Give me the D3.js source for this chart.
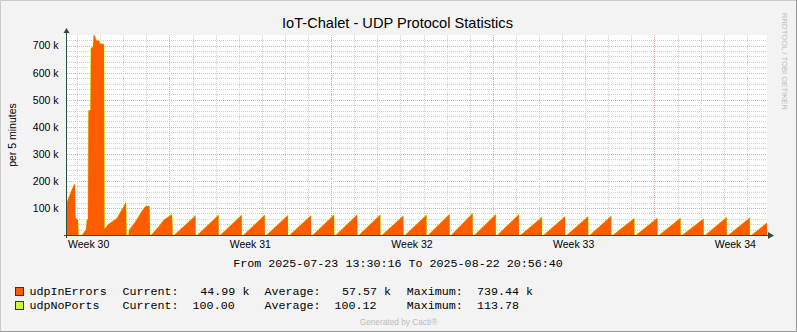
<!DOCTYPE html>
<html><head><meta charset="utf-8">
<script src="https://cdn.jsdelivr.net/npm/d3@7"></script>
<style>html,body{margin:0;padding:0;background:#F3F3F3;} svg{display:block;}</style>
</head><body><svg id="c" width="797" height="332"></svg>
<script>
// ---------------- data ----------------
const rangeStart = "2025-07-23 13:30:16";
const rangeEnd = "2025-08-22 20:56:40";
const times = [
 "2025-07-23 13:30:16","2025-07-23 16:30","2025-07-23 21:00","2025-07-23 21:45","2025-07-23 22:15",
 "2025-07-24 00:55","2025-07-24 01:25","2025-07-24 05:05","2025-07-24 06:10","2025-07-24 09:15",
 "2025-07-24 10:15","2025-07-24 11:20","2025-07-24 11:50","2025-07-24 13:55","2025-07-24 14:25",
 "2025-07-24 16:30","2025-07-24 17:20","2025-07-24 18:35","2025-07-24 19:40","2025-07-24 22:45",
 "2025-07-24 23:50","2025-07-25 03:55","2025-07-25 04:25","2025-07-25 08:50","2025-07-25 12:15",
 "2025-07-25 17:25","2025-07-25 20:55","2025-07-26 00:25","2025-07-26 02:05","2025-07-26 02:50",
 "2025-07-26 03:20","2025-07-26 05:25","2025-07-26 05:55","2025-07-26 12:30","2025-07-26 19:25",
 "2025-07-26 22:50","2025-07-27 01:40","2025-07-27 03:15","2025-07-27 03:45","2025-07-27 05:50",
 "2025-07-27 12:50","2025-07-27 18:00","2025-07-27 21:25","2025-07-28 02:35","2025-07-28 03:20",
 "2025-07-28 05:00",
 "2025-07-29 03:00","2025-07-29 03:10","2025-07-29 05:00",
 "2025-07-30 03:00","2025-07-30 03:10","2025-07-30 05:00",
 "2025-07-31 03:00","2025-07-31 03:10","2025-07-31 05:00",
 "2025-08-01 03:00","2025-08-01 03:10","2025-08-01 05:00",
 "2025-08-02 03:00","2025-08-02 03:10","2025-08-02 05:00",
 "2025-08-03 03:00","2025-08-03 03:10","2025-08-03 05:00",
 "2025-08-04 03:00","2025-08-04 03:10","2025-08-04 05:00",
 "2025-08-05 03:00","2025-08-05 03:10","2025-08-05 05:00",
 "2025-08-06 03:00","2025-08-06 03:10","2025-08-06 05:00",
 "2025-08-07 03:00","2025-08-07 03:10","2025-08-07 05:00",
 "2025-08-08 03:00","2025-08-08 03:10","2025-08-08 05:00",
 "2025-08-09 03:00","2025-08-09 03:10","2025-08-09 05:00",
 "2025-08-10 03:00","2025-08-10 03:10","2025-08-10 05:00",
 "2025-08-11 03:00","2025-08-11 03:10","2025-08-11 05:00",
 "2025-08-12 03:00","2025-08-12 03:10","2025-08-12 05:00",
 "2025-08-13 03:00","2025-08-13 03:10","2025-08-13 05:00",
 "2025-08-14 03:00","2025-08-14 03:10","2025-08-14 05:00",
 "2025-08-15 03:00","2025-08-15 03:10","2025-08-15 05:00",
 "2025-08-16 03:00","2025-08-16 03:10","2025-08-16 05:00",
 "2025-08-17 03:00","2025-08-17 03:10","2025-08-17 05:00",
 "2025-08-18 03:00","2025-08-18 03:10","2025-08-18 05:00",
 "2025-08-19 03:00","2025-08-19 03:10","2025-08-19 05:00",
 "2025-08-20 03:00","2025-08-20 03:10","2025-08-20 05:00",
 "2025-08-21 03:00","2025-08-21 03:10","2025-08-21 05:00",
 "2025-08-22 03:00","2025-08-22 03:10","2025-08-22 05:00",
 "2025-08-22 20:56:40"
];
const udpInErrors = [
 122000,150000,188000,188000,63000,
 55000,0,0,5000,20000,
 57000,57000,460000,460000,690000,
 695000,739440,735000,720000,718000,
 708000,705000,22000,41000,49000,
 62000,84000,105000,117000,120000,
 0,0,18000,49000,89000,
 105000,108000,105000,0,3000,
 31000,55000,64000,76000,0,
 0,
 72000,0,0,
 74000,0,0,
 74000,0,0,
 74000,0,0,
 73000,0,0,
 72000,0,0,
 75000,0,0,
 75000,0,0,
 75000,0,0,
 71000,0,0,
 74000,0,0,
 77000,0,0,
 80000,0,0,
 76000,0,0,
 76000,0,0,
 66000,0,0,
 68000,0,0,
 68000,0,0,
 70000,0,0,
 62000,0,0,
 63000,0,0,
 63000,0,0,
 60000,0,0,
 66000,0,0,
 64000,0,0,
 44990
];
const udpNoPorts = [
 100,100,101,101,100, 100,100,100,100,100, 100,100,105,108,110, 112,113.78,111,104,101,
 100,100,100,100,100, 100,100,100,100,100, 100,100,100,100,100, 100,100,100,100,100,
 100,100,100,100,100, 100,
 100,100,100, 100,100,100, 100,100,100, 100,100,100, 100,100,100, 100,100,100,
 100,100,100, 100,100,100, 100,100,100, 100,100,100, 100,100,100, 100,100,100,
 100,100,100, 100,100,100, 100,100,100, 100,100,100, 100,100,100, 100,100,100,
 100,100,100, 100,100,100, 100,100,100, 100,100,100, 100,100,100, 100,100,100,
 100,100,100,
 100
];
const yMax = 739440;
const yTickValues = [100000,200000,300000,400000,500000,600000,700000];
const yTickLabels = ["100 k","200 k","300 k","400 k","500 k","600 k","700 k"];
const weekStarts = ["2025-07-21","2025-07-28","2025-08-04","2025-08-11","2025-08-18"];
const weekLabels = ["Week 30","Week 31","Week 32","Week 33","Week 34"];
const seriesNames = ["udpInErrors","udpNoPorts"];
const seriesColors = ["#FF5C00","#C6FF3A"];
const statCurrent = ["44.99 k","100.00"];
const statAverage = ["57.57 k","100.12"];
const statMaximum = ["739.44 k","113.78"];
const titleText = "IoT-Chalet - UDP Protocol Statistics";
const yAxisTitle = "per 5 minutes";

// ---------------- drawing ----------------
const parseT = s => d3.utcParse("%Y-%m-%d %H:%M:%S")(s) || d3.utcParse("%Y-%m-%d %H:%M")(s) || d3.utcParse("%Y-%m-%d")(s);
const t0 = parseT(rangeStart), t1 = parseT(rangeEnd);
const data = times.map((t,i)=>({t:parseT(t), a:udpInErrors[i], b:udpNoPorts[i]}));

const svg = d3.select("#c");
const W = 797, H = 332;
const x = d3.scaleUtc().domain([t0,t1]).range([67,767]);
const y = d3.scaleLinear().domain([0,yMax]).range([235,35]);

svg.append("rect").attr("width",W).attr("height",H).attr("fill","#F3F3F3");
// border
svg.append("path").attr("d",`M0.5,${H}V0.5H${W}`).attr("fill","none").attr("stroke","#CBCBCB");
svg.append("path").attr("d",`M0,${H-0.5}H${W-0.5}V0`).attr("fill","none").attr("stroke","#999999");

// canvas
svg.append("rect").attr("x",67).attr("y",35).attr("width",700).attr("height",200).attr("fill","#FFFFFF");
svg.append("clipPath").attr("id","above0").append("rect").attr("x",67).attr("y",30).attr("width",700).attr("height",203.6);

const grid = svg.append("g").attr("shape-rendering","crispEdges");
const minorCol = "#CFCFCF", majorCol = "#F0A4A4";
// horizontal minor/major
d3.range(20000, yMax, 20000).forEach(v=>{
  const yy = Math.round(y(v))+0.5;
  const major = v % 100000 === 0;
  grid.append("line").attr("x1",67).attr("x2",767).attr("y1",yy).attr("y2",yy)
    .attr("stroke", major?majorCol:minorCol).attr("stroke-dasharray","1,1");
});
// vertical minor (daily)
d3.utcDay.range(t0,t1).forEach(d=>{
  const isMon = d.getUTCDay()===1;
  if (isMon) return;
  const xx = Math.round(x(d))+0.5;
  grid.append("line").attr("x1",xx).attr("x2",xx).attr("y1",35).attr("y2",235)
    .attr("stroke",minorCol).attr("stroke-dasharray","1,1");
});
// vertical major (weekly)
weekStarts.map(parseT).filter(d=>d>t0).forEach(d=>{
  const xx = Math.round(x(d))+0.5;
  grid.append("line").attr("x1",xx).attr("x2",xx).attr("y1",35).attr("y2",235)
    .attr("stroke",majorCol).attr("stroke-dasharray","1,1");
});

// areas (udpNoPorts stacked on udpInErrors)
const stackTop = d3.area().x(d=>x(d.t)).y0(y(0)).y1(d=>y(d.a+d.b));
const areaA = d3.area().x(d=>x(d.t)).y0(y(0)).y1(d=>y(d.a));
const lineTop = d3.line().x(d=>x(d.t)).y(d=>y(d.a+d.b));
svg.append("path").datum(data).attr("d",stackTop).attr("fill",seriesColors[1]);
svg.append("path").datum(data).attr("d",lineTop).attr("fill","none").attr("stroke",seriesColors[1])
  .attr("stroke-width",1).attr("clip-path","url(#above0)");
svg.append("path").datum(data).attr("d",areaA).attr("fill",seriesColors[0]);

// axes
const axisCol = "#2C4D43";
svg.append("line").attr("x1",64).attr("x2",769).attr("y1",235.5).attr("y2",235.5).attr("stroke",axisCol).attr("shape-rendering","crispEdges");
svg.append("line").attr("x1",66.5).attr("x2",66.5).attr("y1",238).attr("y2",31).attr("stroke",axisCol).attr("shape-rendering","crispEdges");
svg.append("path").attr("d","M768,232L774,235.5L768,239Z").attr("fill",axisCol);
svg.append("path").attr("d","M63.5,33L66.5,28L69.5,33Z").attr("fill",axisCol);

// y tick labels
const sans = "'Liberation Sans', Arial, sans-serif";
yTickValues.forEach((v,i)=>{
  svg.append("text").attr("x",58.5).attr("y",y(v)+3.8).attr("text-anchor","end")
    .attr("font-family",sans).attr("font-size","10.5px").attr("fill","#000").text(yTickLabels[i]);
});
// x labels: centered mid-week
weekStarts.forEach((s,i)=>{
  const mid = d3.utcHour.offset(parseT(s), 84);
  svg.append("text").attr("x",x(mid)).attr("y",248).attr("text-anchor","middle")
    .attr("font-family",sans).attr("font-size","10.5px").attr("fill","#000").text(weekLabels[i]);
});

// title
svg.append("text").attr("x",397.5).attr("y",27.5).attr("text-anchor","middle")
  .attr("font-family",sans).attr("font-size","14.6px").attr("fill","#000").text(titleText);
// y axis title
svg.append("text").attr("transform","translate(15.5,135) rotate(-90)").attr("text-anchor","middle")
  .attr("font-family",sans).attr("font-size","10.5px").attr("fill","#000").text(yAxisTitle);

// watermark
svg.append("text").attr("transform","translate(781.5,13) rotate(90)")
  .attr("font-family",sans).attr("font-size","7.5px").attr("fill","#BDBDBD")
  .attr("textLength",97).attr("lengthAdjust","spacingAndGlyphs").text("RRDTOOL / TOBI OETIKER");

// From/To
const mono = "'Liberation Mono', 'DejaVu Sans Mono', monospace";
const fmt = d3.utcFormat("%Y-%m-%d %H:%M:%S");
svg.append("text").attr("x",398).attr("y",266.5).attr("text-anchor","middle")
  .attr("font-family",mono).attr("font-size","11.7px").attr("fill","#000")
  .style("white-space","pre").text(`From ${fmt(t0)} To ${fmt(t1)}`);

// legend
const rowY = [295, 309];
const colX = {name:29.5, cur:122.5, curV:[200.3,192.6], avg:264.5, avgV:[342,334.5], max:406.7, maxV:[477,477]};
seriesNames.forEach((n,i)=>{
  svg.append("rect").attr("x",15.5).attr("y",rowY[i]-7.5).attr("width",8).attr("height",8)
    .attr("fill",seriesColors[i]).attr("stroke","#333").attr("shape-rendering","crispEdges");
  const t = (xx, s) => svg.append("text").attr("x",xx).attr("y",rowY[i]).attr("font-family",mono)
    .attr("font-size","11.7px").attr("fill","#000").style("white-space","pre").text(s);
  t(colX.name, n);
  t(colX.cur, "Current:");
  t(colX.curV[i], statCurrent[i]);
  t(colX.avg, "Average:");
  t(colX.avgV[i], statAverage[i]);
  t(colX.max, "Maximum:");
  t(colX.maxV[i], statMaximum[i]);
});

// footer
svg.append("text").attr("x",398.5).attr("y",325).attr("text-anchor","middle")
  .attr("font-family",sans).attr("font-size","8.3px").attr("fill","#BBBBBB").text("Generated by Cacti®");
</script></body></html>
